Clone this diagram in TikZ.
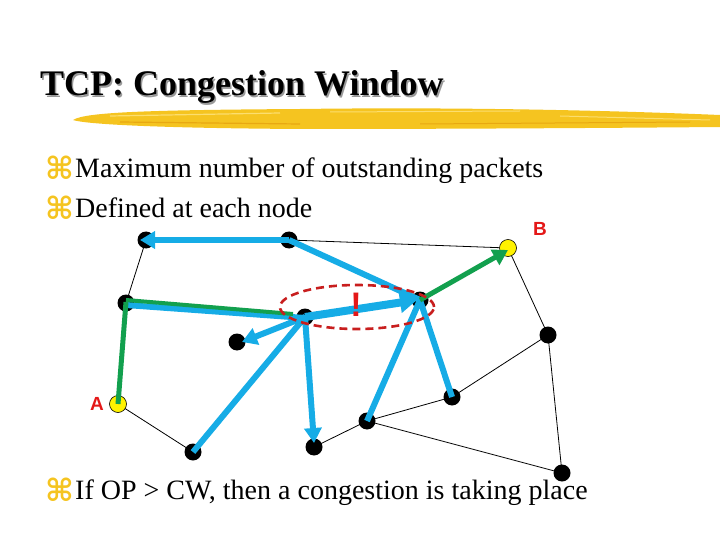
\documentclass[tikz,border=0pt]{standalone}
\usepackage{fontspec}
\setmainfont{Liberation Serif}
\newfontfamily\lsans{Liberation Sans}
\newfontfamily\djv{DejaVu Sans}
\usetikzlibrary{arrows.meta}
\definecolor{pblue}{RGB}{22,172,230}
\definecolor{pgreen}{RGB}{18,160,78}
\definecolor{pgold}{RGB}{245,196,32}
\definecolor{plight}{RGB}{252,222,110}
\definecolor{pdark}{RGB}{232,168,18}
\definecolor{pred}{RGB}{228,24,24}
\definecolor{pdred}{RGB}{200,30,30}
\begin{document}
\begin{tikzpicture}[x=1pt,y=-1pt,
  blk/.style={circle,fill=black,inner sep=0pt,minimum size=17pt},
  yel/.style={circle,fill=yellow,draw=black,line width=0.6pt,inner sep=0pt,minimum size=17pt},
  link/.style={draw=black,line width=0.8pt},
  bl/.style={draw=pblue,line width=6pt},
  blarrow/.style={bl,-{Triangle[length=15pt,width=17pt]}},
  gr/.style={draw=pgreen,line width=5pt},
  grarrow/.style={gr,-{Triangle[length=15pt,width=17pt]}},
  lbl/.style={text=pred,font=\lsans\bfseries\fontsize{19}{19}\selectfont,inner sep=0pt},
  bodytext/.style={anchor=base west,inner sep=0pt,font=\fontsize{28}{28}\selectfont},
  bulletsym/.style={anchor=base west,inner sep=0pt,text=pgold,font=\djv\bfseries\fontsize{31}{31}\selectfont}
]
\useasboundingbox (0,0) rectangle (720,540);
% brush stroke
\fill[pgold] (73,120) .. controls (85,112) and (150,110) .. (300,109) .. controls (450,107) and (600,110) .. (720,115) -- (720,127) .. controls (600,128) and (450,129) .. (300,129) .. controls (150,128) and (85,124) .. (73,120) -- cycle;
\draw[plight,line width=1.2pt] (110,116) -- (280,113);
\draw[plight,line width=1pt] (330,112) -- (520,111);
\draw[pdark,line width=1.2pt] (120,122) -- (300,124);
\draw[pdark,line width=1pt] (420,124) -- (690,122);
\draw[plight,line width=1pt] (560,116) -- (710,120);
% title with shadow
\node (title) [anchor=base west,inner sep=0pt,font=\bfseries\fontsize{36}{36}\selectfont] at (40,96) {\rlap{\kern1.5pt\raisebox{-1.5pt}{\color{black!40}TCP: Congestion Window}}TCP: Congestion Window};
% bullets
\node (b1s) [bulletsym] at (45,180) {⌘};
\node (b1) [bodytext] at (75,178) {Maximum number of outstanding packets};
\node (b2s) [bulletsym] at (45,220) {⌘};
\node (b2) [bodytext] at (75,218) {Defined at each node};
\node (b3s) [bulletsym] at (45,501) {⌘};
\node (b3) [bodytext] at (75,499) {If OP > CW, then a congestion is taking place};
% node positions
\coordinate (p1) at (146,240);
\coordinate (p2) at (289,240);
\coordinate (pB) at (508,248);
\coordinate (p3) at (126,303);
\coordinate (p4) at (305,317);
\coordinate (p5) at (420,300);
\coordinate (p6) at (237,342);
\coordinate (p7) at (548,335);
\coordinate (pA) at (118,404);
\coordinate (p8) at (452,397);
\coordinate (p9) at (367,421);
\coordinate (p10) at (193,452);
\coordinate (p11) at (314,447);
\coordinate (p12) at (562,473);
% thin links
\draw[link] (p1) -- (p3);
\draw[link] (p2) -- (pB);
\draw[link] (p2) -- (p5);
\draw[link] (pB) -- (p7);
\draw[link] (p7) -- (p8);
\draw[link] (p7) -- (p12);
\draw[link] (p5) -- (p8);
\draw[link] (p8) -- (p9);
\draw[link] (p9) -- (p11);
\draw[link] (p9) -- (p12);
\draw[link] (pA) -- (p10);
% nodes
\node (n1) [blk] at (p1) {};
\node (n2) [blk] at (p2) {};
\node (nB) [yel] at (pB) {};
\node (n3) [blk] at (p3) {};
\node (n4) [blk] at (p4) {};
\node (n5) [blk] at (p5) {};
\node (n6) [blk] at (p6) {};
\node (n7) [blk] at (p7) {};
\node (nA) [yel] at (pA) {};
\node (n8) [blk] at (p8) {};
\node (n9) [blk] at (p9) {};
\node (n10) [blk] at (p10) {};
\node (n11) [blk] at (p11) {};
\node (n12) [blk] at (p12) {};
% blue traffic
\draw[blarrow] (n2.center) -- ([xshift=-6pt]n1.center);
\draw[bl] (n2.center) -- (n5.center);
\draw[bl] ([yshift=-2pt]n3.center) -- ([yshift=-1pt]n4.center);
\draw[bl] (n4.center) -- (n10.center);
\draw[blarrow] (n4.center) -- ([xshift=5pt]n6.center);
\draw[blarrow] (n4.center) -- ([yshift=4pt]n11.center);
\draw[bl] (n5.center) -- (n9.center);
\draw[bl] (n5.center) -- (n8.center);
\draw[bl,line width=8pt,-{Triangle[length=17pt,width=20pt]}] (n4.center) -- ([xshift=-3pt]n5.center);
% green path
\draw[gr] (nA.center) -- ([yshift=1pt]n3.center);
\draw[gr,line width=4pt] ([yshift=3pt]n3.center) -- ([yshift=3pt,xshift=-12pt]n4.center);
\draw[grarrow] (n5.center) -- ([yshift=-2pt]nB.center);
% congestion ellipse
\draw[pdred,line width=2.6pt,dash pattern=on 8pt off 5pt] (357,307) ellipse [x radius=77pt, y radius=22pt];
\node (excl) [text=pred,font=\lsans\bfseries\fontsize{34}{34}\selectfont,inner sep=0pt] at (356,305) {!};
\node (lA) [lbl] at (97,404) {A};
\node (lB) [lbl] at (540,229) {B};
\end{tikzpicture}
\end{document}
